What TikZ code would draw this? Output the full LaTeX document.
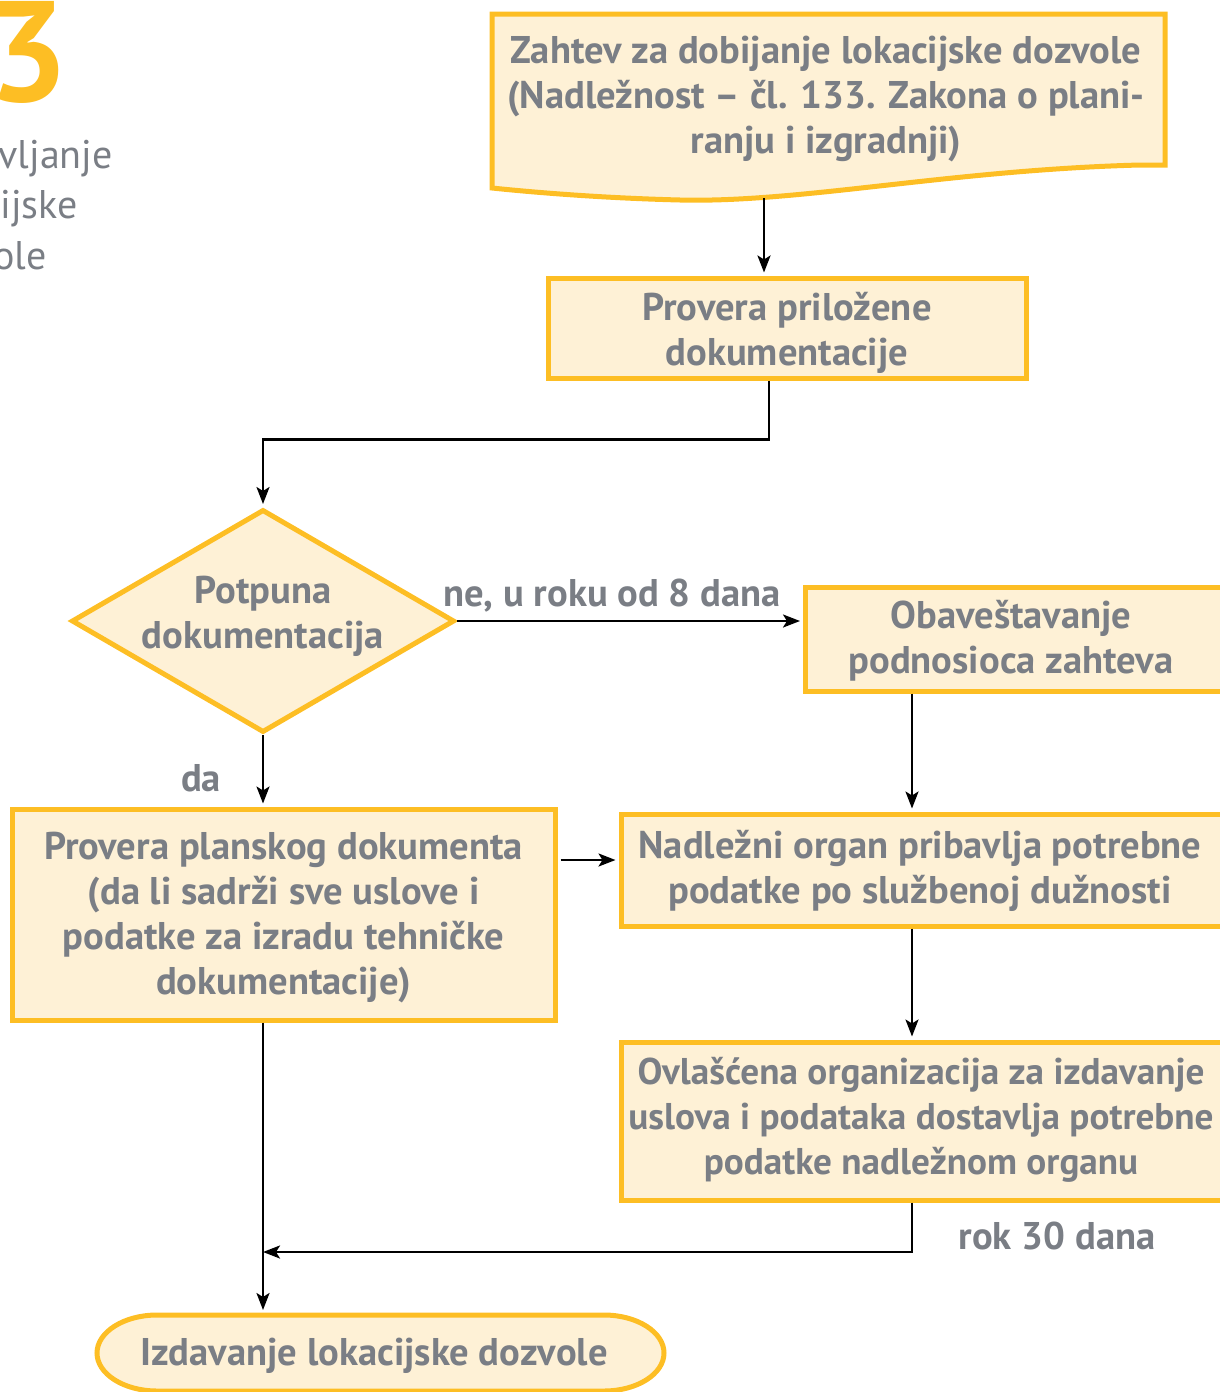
\documentclass[tikz,border=0pt]{standalone}
\usepackage{fontspec}
\setmainfont{PT Sans}
\usetikzlibrary{arrows.meta,shapes.geometric,calc}
\definecolor{ygold}{HTML}{FDBE24}
\definecolor{cream}{HTML}{FEF1D6}
\definecolor{tgray}{HTML}{7A7E85}
\tikzset{
  box/.style={draw=ygold,fill=cream,line width=5pt,rectangle,inner sep=0pt},
  lbl/.style={inner sep=0pt,align=center,font=\bfseries\fontsize{38.6}{45}\selectfont,text=tgray},
  arr/.style={line width=2.5pt,-{Stealth[length=17pt,width=13pt,inset=4pt]},shorten >=3pt},
  side/.style={anchor=base east,inner sep=0pt,text=tgray,font=\fontsize{40}{40}\selectfont}
}
\begin{document}
\begin{tikzpicture}[x=1pt,y=-1pt]
\useasboundingbox (0,0) rectangle (1219,1392);
% side title fragments
\node[anchor=base east,inner sep=0pt,text=ygold,font=\bfseries\fontsize{143}{143}\selectfont] (num) at (69,101) {3};
\node[side] (t1) at (113,168) {vljanje};
\node[side] (t2) at (78,218) {ijske};
\node[side] (t3) at (47,269) {ole};
% document shape
\draw[draw=ygold,fill=cream,line width=5pt,line join=miter]
  (492,14) -- (1165,14) -- (1165,165) -- (1140,165)
  .. controls (950,170) and (800,203) .. (680,200)
  .. controls (600,198) and (530,192) .. (492,188) -- cycle;
\node[lbl] (doc) at (826,99) {Zahtev za dobijanje lokacijske dozvole\\(Nadležnost – čl. 133. Zakona o plani-\\ranju i izgradnji)};
\coordinate (dbot) at (764,198);
% boxes
\node[box,minimum width=478,minimum height=100] (b2) at (787,328) {};
\node[lbl] (b2t) at (787,333) {Provera priložene\\dokumentacije};
\node[box,shape=diamond,minimum width=383,minimum height=223] (dia) at (263,621) {};
\node[lbl] (diat) at (263,616) {Potpuna\\dokumentacija};
\node[box,minimum width=419,minimum height=104] (obav) at (1015,639) {};
\node[lbl] (obavt) at (1011,641) {Obaveštavanje\\podnosioca zahteva};
\node[box,minimum width=604,minimum height=112] (nadl) at (923,870) {};
\node[lbl] (nadlt) at (920,871) {Nadležni organ pribavlja potrebne\\podatke po službenoj dužnosti};
\node[box,minimum width=604,minimum height=158] (ovl) at (923,1121) {};
\node[lbl,font=\bfseries\fontsize{37.2}{45}\selectfont] (ovlt) at (921,1120) {Ovlašćena organizacija za izdavanje\\uslova i podataka dostavlja potrebne\\podatke nadležnom organu};
\node[box,minimum width=543,minimum height=211] (plan) at (283.5,914.5) {};
\node[lbl] (plant) at (283.5,917.5) {Provera planskog dokumenta\\(da li sadrži sve uslove i\\podatke za izradu tehničke\\dokumentacije)};
% end terminal
\draw[draw=ygold,fill=cream,line width=5pt]
  (157,1315) -- (604,1315) .. controls (637,1315) and (664,1332) .. (664,1353)
  .. controls (664,1374) and (637,1391) .. (604,1391) -- (157,1391)
  .. controls (124,1391) and (97,1374) .. (97,1353)
  .. controls (97,1332) and (124,1315) .. (157,1315) -- cycle;
\node[lbl] (end) at (374,1356) {Izdavanje lokacijske dozvole};
\coordinate (etop) at (263,1313);
\coordinate (c1) at (912,0);
\coordinate (merge) at (263,1252);
% labels
\node[lbl] (lne) at (612,596) {ne, u roku od 8 dana};
\node[lbl] (lda) at (201,778) {da};
\node[lbl] (lrok) at (1057,1236) {rok 30 dana};
% connectors
\draw[arr] (dbot) -- (dbot |- b2.north);
\draw[arr] ([xshift=-18pt]b2.south) -- ++(0,59) -| (dia.north);
\draw[arr] (dia.east) -- (obav.west |- dia.east);
\draw[arr] (obav.south -| c1) -- (nadl.north -| c1);
\draw[arr] (nadl.south -| c1) -- (ovl.north -| c1);
\draw[arr] (dia.south) -- (dia.south |- plan.north);
\draw[arr,shorten <=3pt] ([yshift=54.5pt]plan.east) -- ([yshift=54.5pt]plan.east -| nadl.west);
\draw[arr,shorten >=0pt] (ovl.south -| c1) |- (merge);
\draw[arr] (plan.south -| dia.south) -- (etop);
\end{tikzpicture}
\end{document}
